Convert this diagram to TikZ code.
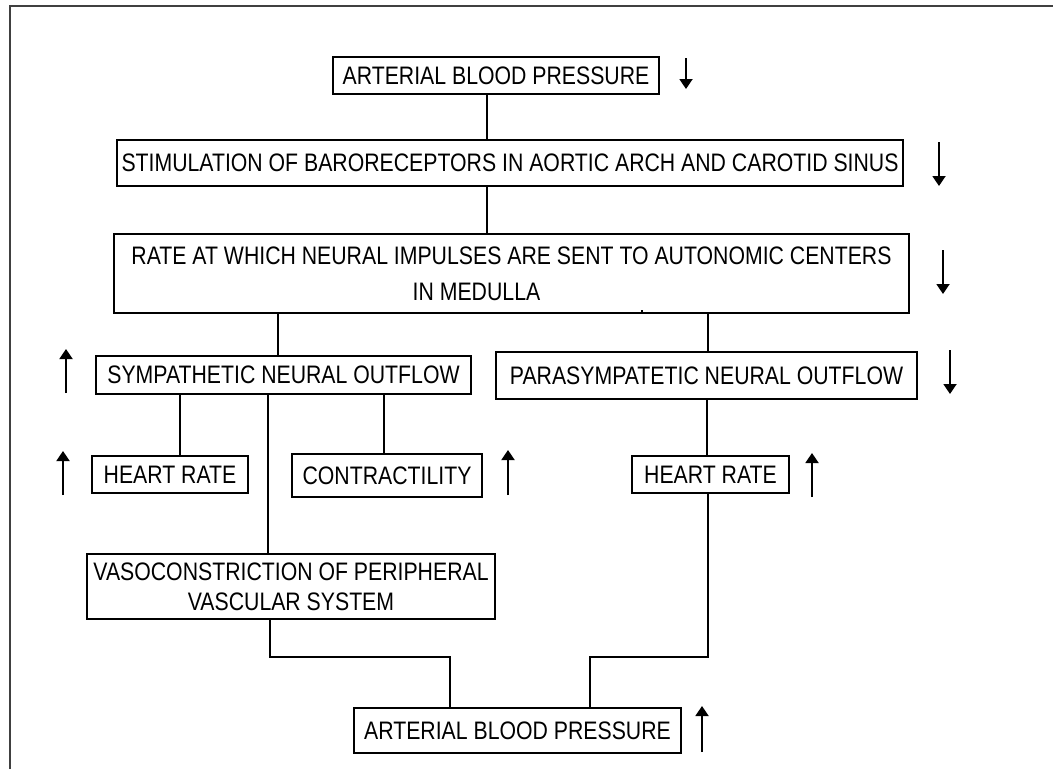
\documentclass[tikz,border=0pt]{standalone}
\usepackage{fontspec}
\setmainfont[FakeStretch=0.84]{Liberation Sans}
\usetikzlibrary{arrows.meta}
\tikzset{
  box/.style={draw=black, line width=1.9pt, inner sep=0pt, align=center,
              font=\fontsize{25.3}{36}\selectfont},
  link/.style={draw=black, line width=1.9pt},
  ind/.style={draw=black, line width=1.9pt, -{Triangle[width=13pt,length=10pt]}},
}
\begin{document}
\begin{tikzpicture}[x=1pt, y=-1pt]
\useasboundingbox (0,0) rectangle (1053,769);
\fill[white] (0,0) rectangle (1053,769);
% frame
\draw[draw=black!75, line width=2.8pt] (10,769) -- (10,6) -- (1053,6);

% boxes
\node[box, minimum width=326pt, minimum height=37pt] (abp1) at (496,75.5) {ARTERIAL BLOOD PRESSURE};
\node[box, minimum width=786pt, minimum height=46pt] (stim) at (510,163) {STIMULATION OF BARORECEPTORS IN AORTIC ARCH AND CAROTID SINUS};
\node[box, minimum width=795pt, minimum height=79pt] (rate) at (511.5,273.5) {RATE AT WHICH NEURAL IMPULSES ARE SENT TO AUTONOMIC CENTERS\\IN MEDULLA\hspace*{70pt}};
\node[box, minimum width=375pt, minimum height=38pt] (symp) at (283.5,375) {SYMPATHETIC NEURAL OUTFLOW};
\node[box, minimum width=421pt, minimum height=47pt] (para) at (706.5,375.5) {PARASYMPATETIC NEURAL OUTFLOW};
\node[box, minimum width=156pt, minimum height=37pt] (hr1) at (170,474.5) {HEART RATE};
\node[box, minimum width=190pt, minimum height=43pt] (contr) at (387,475.5) {CONTRACTILITY};
\node[box, minimum width=157pt, minimum height=37pt] (hr2) at (710.5,474.5) {HEART RATE};
\node[box, minimum width=408pt, minimum height=65pt, font=\fontsize{25.3}{30}\selectfont] (vaso) at (291,586.5) {VASOCONSTRICTION OF PERIPHERAL\\VASCULAR SYSTEM};
\node[box, minimum width=327pt, minimum height=45pt] (abp2) at (517.5,730.5) {ARTERIAL BLOOD PRESSURE};

% x positions of connectors
\coordinate (x487) at (487,0);
\coordinate (x278) at (278,0);
\coordinate (x708) at (708,0);
\coordinate (x180) at (180,0);
\coordinate (x268) at (268,0);
\coordinate (x384) at (384,0);
\coordinate (x707) at (707,0);
\coordinate (x270) at (270,0);
\coordinate (x450) at (450,0);
\coordinate (x590) at (590,0);
\coordinate (yj) at (0,657);
\coordinate (x642) at (642,0);

% connectors
\draw[link] (abp1.south -| x487) -- (stim.north -| x487);
\draw[link] (stim.south -| x487) -- (rate.north -| x487);
\draw[link] (rate.south -| x278) -- (symp.north -| x278);
\draw[link] (rate.south -| x708) -- (para.north -| x708);
\draw[link] (symp.south -| x180) -- (hr1.north -| x180);
\draw[link] (symp.south -| x268) -- (vaso.north -| x268);
\draw[link] (symp.south -| x384) -- (contr.north -| x384);
\draw[link] (para.south -| x707) -- (hr2.north -| x707);
\draw[link] (vaso.south -| x270) -- (x270 |- yj) -- (x450 |- yj) -- (abp2.north -| x450);
\draw[link] (hr2.south -| x708) -- (x708 |- yj) -- (x590 |- yj) -- (abp2.north -| x590);
% small tick on rate box
\draw[line width=1.4pt] (rate.south -| x642) -- ++(0,-3.5);

% change indicators
\draw[ind] (686,58) -- (686,89);
\draw[ind] (939,142) -- (939,186);
\draw[ind] (943,250) -- (943,294);
\draw[ind] (66,393) -- (66,349);
\draw[ind] (950,350) -- (950,394);
\draw[ind] (63,495) -- (63,451);
\draw[ind] (508,495) -- (508,450);
\draw[ind] (812,497) -- (812,453);
\draw[ind] (702,752) -- (702,706);
\end{tikzpicture}
\end{document}
